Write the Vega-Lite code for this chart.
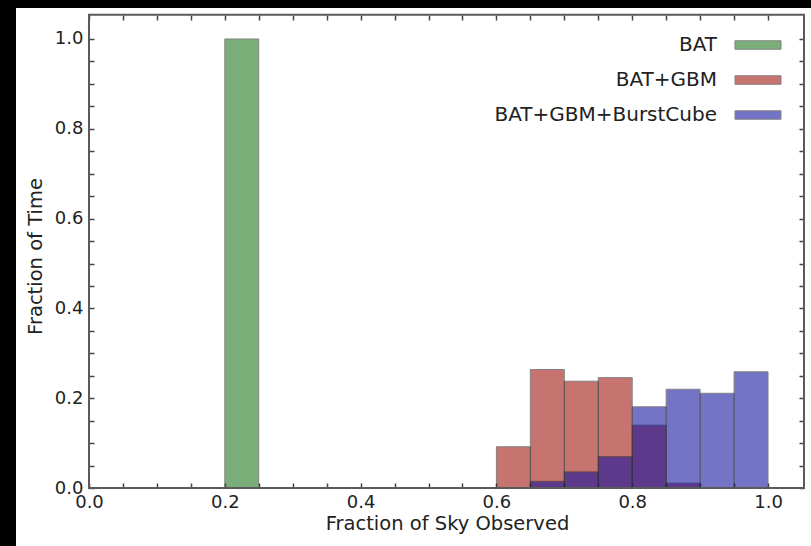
{
  "$schema": "https://vega.github.io/schema/vega-lite/v6.json",
  "width": 795,
  "height": 538,
  "autosize": {"type": "none"},
  "padding": {"left": 16, "top": 8, "right": 0, "bottom": 0},
  "background": "#000000",
  "config": {
    "view": {"fill": "white", "stroke": null},
    "font": "DejaVu Sans",
    "axis": {
      "grid": false,
      "domain": false,
      "tickSize": -5,
      "tickColor": "#444444",
      "tickWidth": 1.5,
      "labelFontSize": 18,
      "labelColor": "#222222",
      "titleFontSize": 19.5,
      "titleColor": "#222222",
      "titleFontWeight": "normal",
      "labelFlush": false,
      "labelOverlap": false
    }
  },
  "resolve": {"axis": {"x": "independent", "y": "independent"}},
  "layer": [
    {
      "data": {
        "values": [
          {"series": "BAT", "start": 0.20, "end": 0.25, "fraction": 1.0},
          {"series": "BAT+GBM", "start": 0.60, "end": 0.65, "fraction": 0.092},
          {"series": "BAT+GBM", "start": 0.65, "end": 0.70, "fraction": 0.264},
          {"series": "BAT+GBM", "start": 0.70, "end": 0.75, "fraction": 0.238},
          {"series": "BAT+GBM", "start": 0.75, "end": 0.80, "fraction": 0.246},
          {"series": "BAT+GBM", "start": 0.80, "end": 0.85, "fraction": 0.140},
          {"series": "BAT+GBM", "start": 0.85, "end": 0.90, "fraction": 0.011},
          {"series": "BAT+GBM+BurstCube", "start": 0.65, "end": 0.70, "fraction": 0.015},
          {"series": "BAT+GBM+BurstCube", "start": 0.70, "end": 0.75, "fraction": 0.036},
          {"series": "BAT+GBM+BurstCube", "start": 0.75, "end": 0.80, "fraction": 0.070},
          {"series": "BAT+GBM+BurstCube", "start": 0.80, "end": 0.85, "fraction": 0.181},
          {"series": "BAT+GBM+BurstCube", "start": 0.85, "end": 0.90, "fraction": 0.220},
          {"series": "BAT+GBM+BurstCube", "start": 0.90, "end": 0.95, "fraction": 0.211},
          {"series": "BAT+GBM+BurstCube", "start": 0.95, "end": 1.00, "fraction": 0.259}
        ]
      },
      "mark": {"type": "bar", "opacity": 0.58, "stroke": "#2a2a2a", "strokeWidth": 1},
      "encoding": {
        "x": {
          "field": "start",
          "type": "quantitative",
          "scale": {"domain": [-0.1075, 1.0633], "nice": false, "zero": false},
          "axis": {
            "orient": "bottom",
            "offset": -58,
            "values": [0, 0.05, 0.1, 0.15, 0.2, 0.25, 0.3, 0.35, 0.4, 0.45, 0.5, 0.55, 0.6, 0.65, 0.7, 0.75, 0.8, 0.85, 0.9, 0.95, 1.0],
            "labelExpr": "abs(datum.value*5 - round(datum.value*5)) < 0.001 ? format(datum.value, '.1f') : ''",
            "labelPadding": 10,
            "title": "Fraction of Sky Observed",
            "titleX": 431,
            "titleY": 41,
            "titleBaseline": "alphabetic",
            "titleAlign": "center"
          }
        },
        "x2": {"field": "end"},
        "y": {
          "field": "fraction",
          "type": "quantitative",
          "stack": null,
          "scale": {"domain": [-0.129, 1.069], "nice": false, "zero": false},
          "axis": {
            "orient": "left",
            "offset": -73,
            "values": [0, 0.05, 0.1, 0.15, 0.2, 0.25, 0.3, 0.35, 0.4, 0.45, 0.5, 0.55, 0.6, 0.65, 0.7, 0.75, 0.8, 0.85, 0.9, 0.95, 1.0],
            "labelExpr": "abs(datum.value*5 - round(datum.value*5)) < 0.001 ? format(datum.value, '.1f') : ''",
            "labelPadding": 11,
            "title": "Fraction of Time",
            "titleX": -48,
            "titleY": 248,
            "titleAngle": -90,
            "titleBaseline": "alphabetic",
            "titleAlign": "center"
          }
        },
        "y2": {"datum": 0},
        "color": {
          "field": "series",
          "type": "nominal",
          "scale": {
            "domain": ["BAT", "BAT+GBM", "BAT+GBM+BurstCube"],
            "range": ["#1a751a", "#a0100a", "#10119d"]
          },
          "legend": {
            "title": null,
            "orient": "top-right",
            "offset": 27,
            "padding": 0,
            "symbolType": "M-2.706,-0.5H2.706V0.5H-2.706Z",
            "symbolSize": 289,
            "symbolOpacity": 0.58,
            "symbolStrokeColor": "#2a2a2a",
            "symbolStrokeWidth": 1,
            "labelAlign": "right",
            "labelOffset": -51,
            "labelFontSize": 20,
            "labelLimit": 400,
            "labelColor": "#222222",
            "rowPadding": 15
          }
        }
      }
    },
    {
      "data": {"values": [{"frame": "plot"}]},
      "mark": {"type": "rect", "filled": false, "stroke": "#5a5a5a", "strokeWidth": 2},
      "encoding": {
        "x": {
          "datum": 0,
          "type": "quantitative",
          "scale": {"domain": [-0.1075, 1.0633], "nice": false, "zero": false},
          "axis": {
            "orient": "top",
            "offset": -7,
            "values": [0, 0.05, 0.1, 0.15, 0.2, 0.25, 0.3, 0.35, 0.4, 0.45, 0.5, 0.55, 0.6, 0.65, 0.7, 0.75, 0.8, 0.85, 0.9, 0.95, 1.0],
            "labels": false,
            "title": null
          }
        },
        "x2": {"datum": 1.053},
        "y": {
          "datum": 0,
          "type": "quantitative",
          "scale": {"domain": [-0.129, 1.069], "nice": false, "zero": false},
          "axis": {
            "orient": "right",
            "offset": -7,
            "values": [0, 0.05, 0.1, 0.15, 0.2, 0.25, 0.3, 0.35, 0.4, 0.45, 0.5, 0.55, 0.6, 0.65, 0.7, 0.75, 0.8, 0.85, 0.9, 0.95, 1.0],
            "labels": false,
            "title": null
          }
        },
        "y2": {"datum": 1.054}
      }
    }
  ]
}
